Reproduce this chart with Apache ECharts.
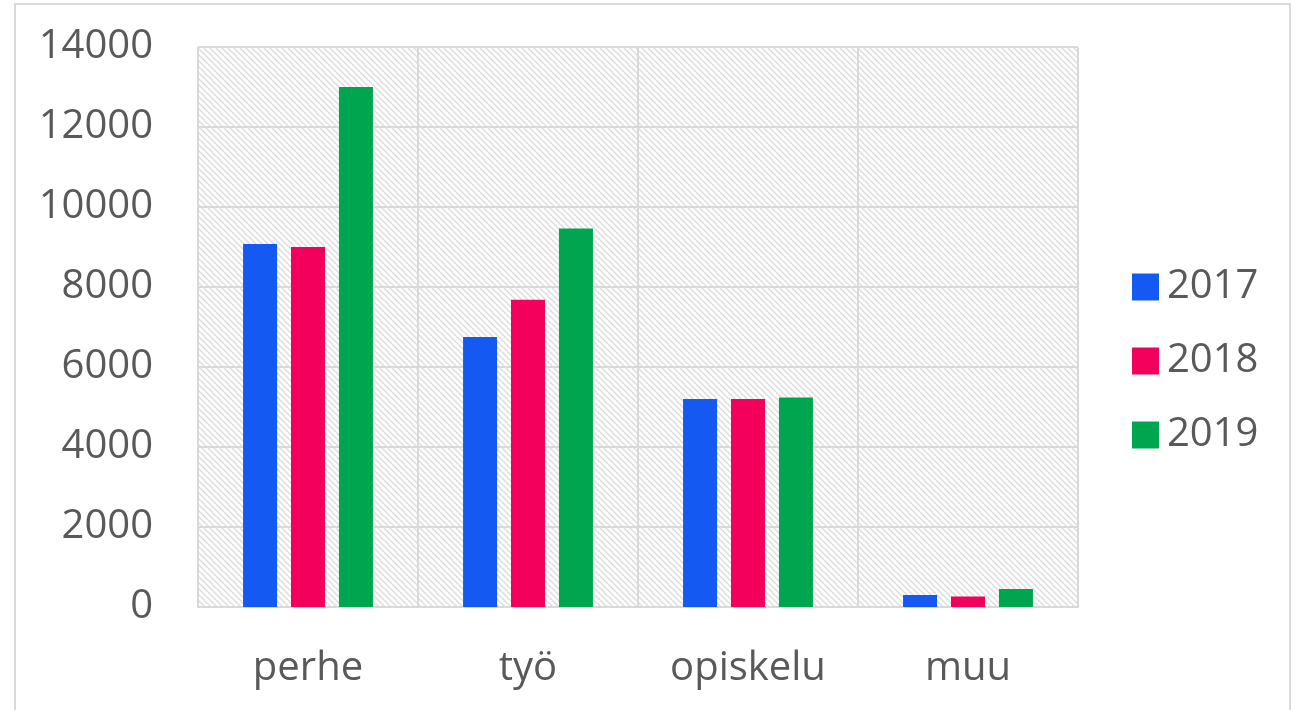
<!DOCTYPE html>
<html>
<head>
<meta charset="utf-8">
<title>perhe työ opiskelu muu</title>
<script src="https://cdn.jsdelivr.net/npm/echarts@6/dist/echarts.min.js"></script>
<style>
  html, body { margin: 0; padding: 0; background: #fff; }
  #main { width: 1296px; height: 710px; }
</style>
</head>
<body>
<div id="main"></div>
<script>
  // data
  var categories = ['perhe', 'työ', 'opiskelu', 'muu']
  var years = ['2017', '2018', '2019']
  var values2017 = [9075, 6750, 5200, 300]
  var values2018 = [9000, 7680, 5200, 265]
  var values2019 = [13000, 9460, 5240, 450]
  var yTicks = [0, 14000, 2000]  // min, max, step

  var colors = ['#1459F2', '#F2005B', '#00A64F']
  var font = '"Open Sans", "Noto Sans", sans-serif'
  var textColor = '#595959'

  // diagonal hatch behind the plot
  function hatch () {
    var c = document.createElement('canvas')
    c.width = 6
    c.height = 6
    var ctx = c.getContext('2d')
    ctx.fillStyle = '#ffffff'
    ctx.fillRect(0, 0, 6, 6)
    ctx.strokeStyle = '#dcdcdc'
    ctx.lineWidth = 1.4
    ctx.beginPath()
    ctx.moveTo(-1, -1)
    ctx.lineTo(7, 7)
    ctx.moveTo(-1, 5)
    ctx.lineTo(1, 7)
    ctx.moveTo(5, -1)
    ctx.lineTo(7, 1)
    ctx.stroke()
    return c
  }

  var chart = echarts.init(document.getElementById('main'))
  var seriesData = [values2017, values2018, values2019]

  chart.setOption({
    animation: false,
    textStyle: { fontFamily: font },
    graphic: [{
      type: 'rect',
      shape: { x: 15, y: 4, width: 1275, height: 740 },
      style: { fill: null, stroke: '#d9d9d9', lineWidth: 2 },
      silent: true
    }],
    grid: {
      left: 198,
      right: 218,
      top: 47,
      bottom: 103,
      show: true,
      borderWidth: 0,
      backgroundColor: { image: hatch(), repeat: 'repeat' }
    },
    legend: {
      orient: 'vertical',
      left: 1127,
      top: 262,
      itemWidth: 27,
      itemHeight: 27,
      itemGap: 34,
      icon: 'rect',
      data: years,
      textStyle: {
        fontFamily: font,
        fontSize: 40,
        color: textColor,
        lineHeight: 40,
        padding: [0, 0, 0, 3]
      }
    },
    xAxis: {
      type: 'category',
      data: categories,
      axisLine: { show: true, lineStyle: { color: '#d9d9d9', width: 2 } },
      axisTick: { show: false },
      splitLine: { show: true, lineStyle: { color: '#d9d9d9', width: 2 } },
      axisLabel: {
        fontFamily: font,
        fontSize: 40,
        color: textColor,
        margin: 42
      }
    },
    yAxis: {
      type: 'value',
      min: yTicks[0],
      max: yTicks[1],
      interval: yTicks[2],
      axisLine: { show: false },
      axisTick: { show: false },
      splitLine: { show: true, lineStyle: { color: '#d9d9d9', width: 2 } },
      axisLabel: {
        fontFamily: font,
        fontSize: 40,
        color: textColor,
        margin: 45,
        formatter: function (v) { return String(v) }
      }
    },
    series: years.map(function (y, i) {
      return {
        name: y,
        type: 'bar',
        data: seriesData[i],
        barWidth: 34,
        barGap: '41%',
        itemStyle: { color: colors[i] }
      }
    })
  })
</script>
</body>
</html>
